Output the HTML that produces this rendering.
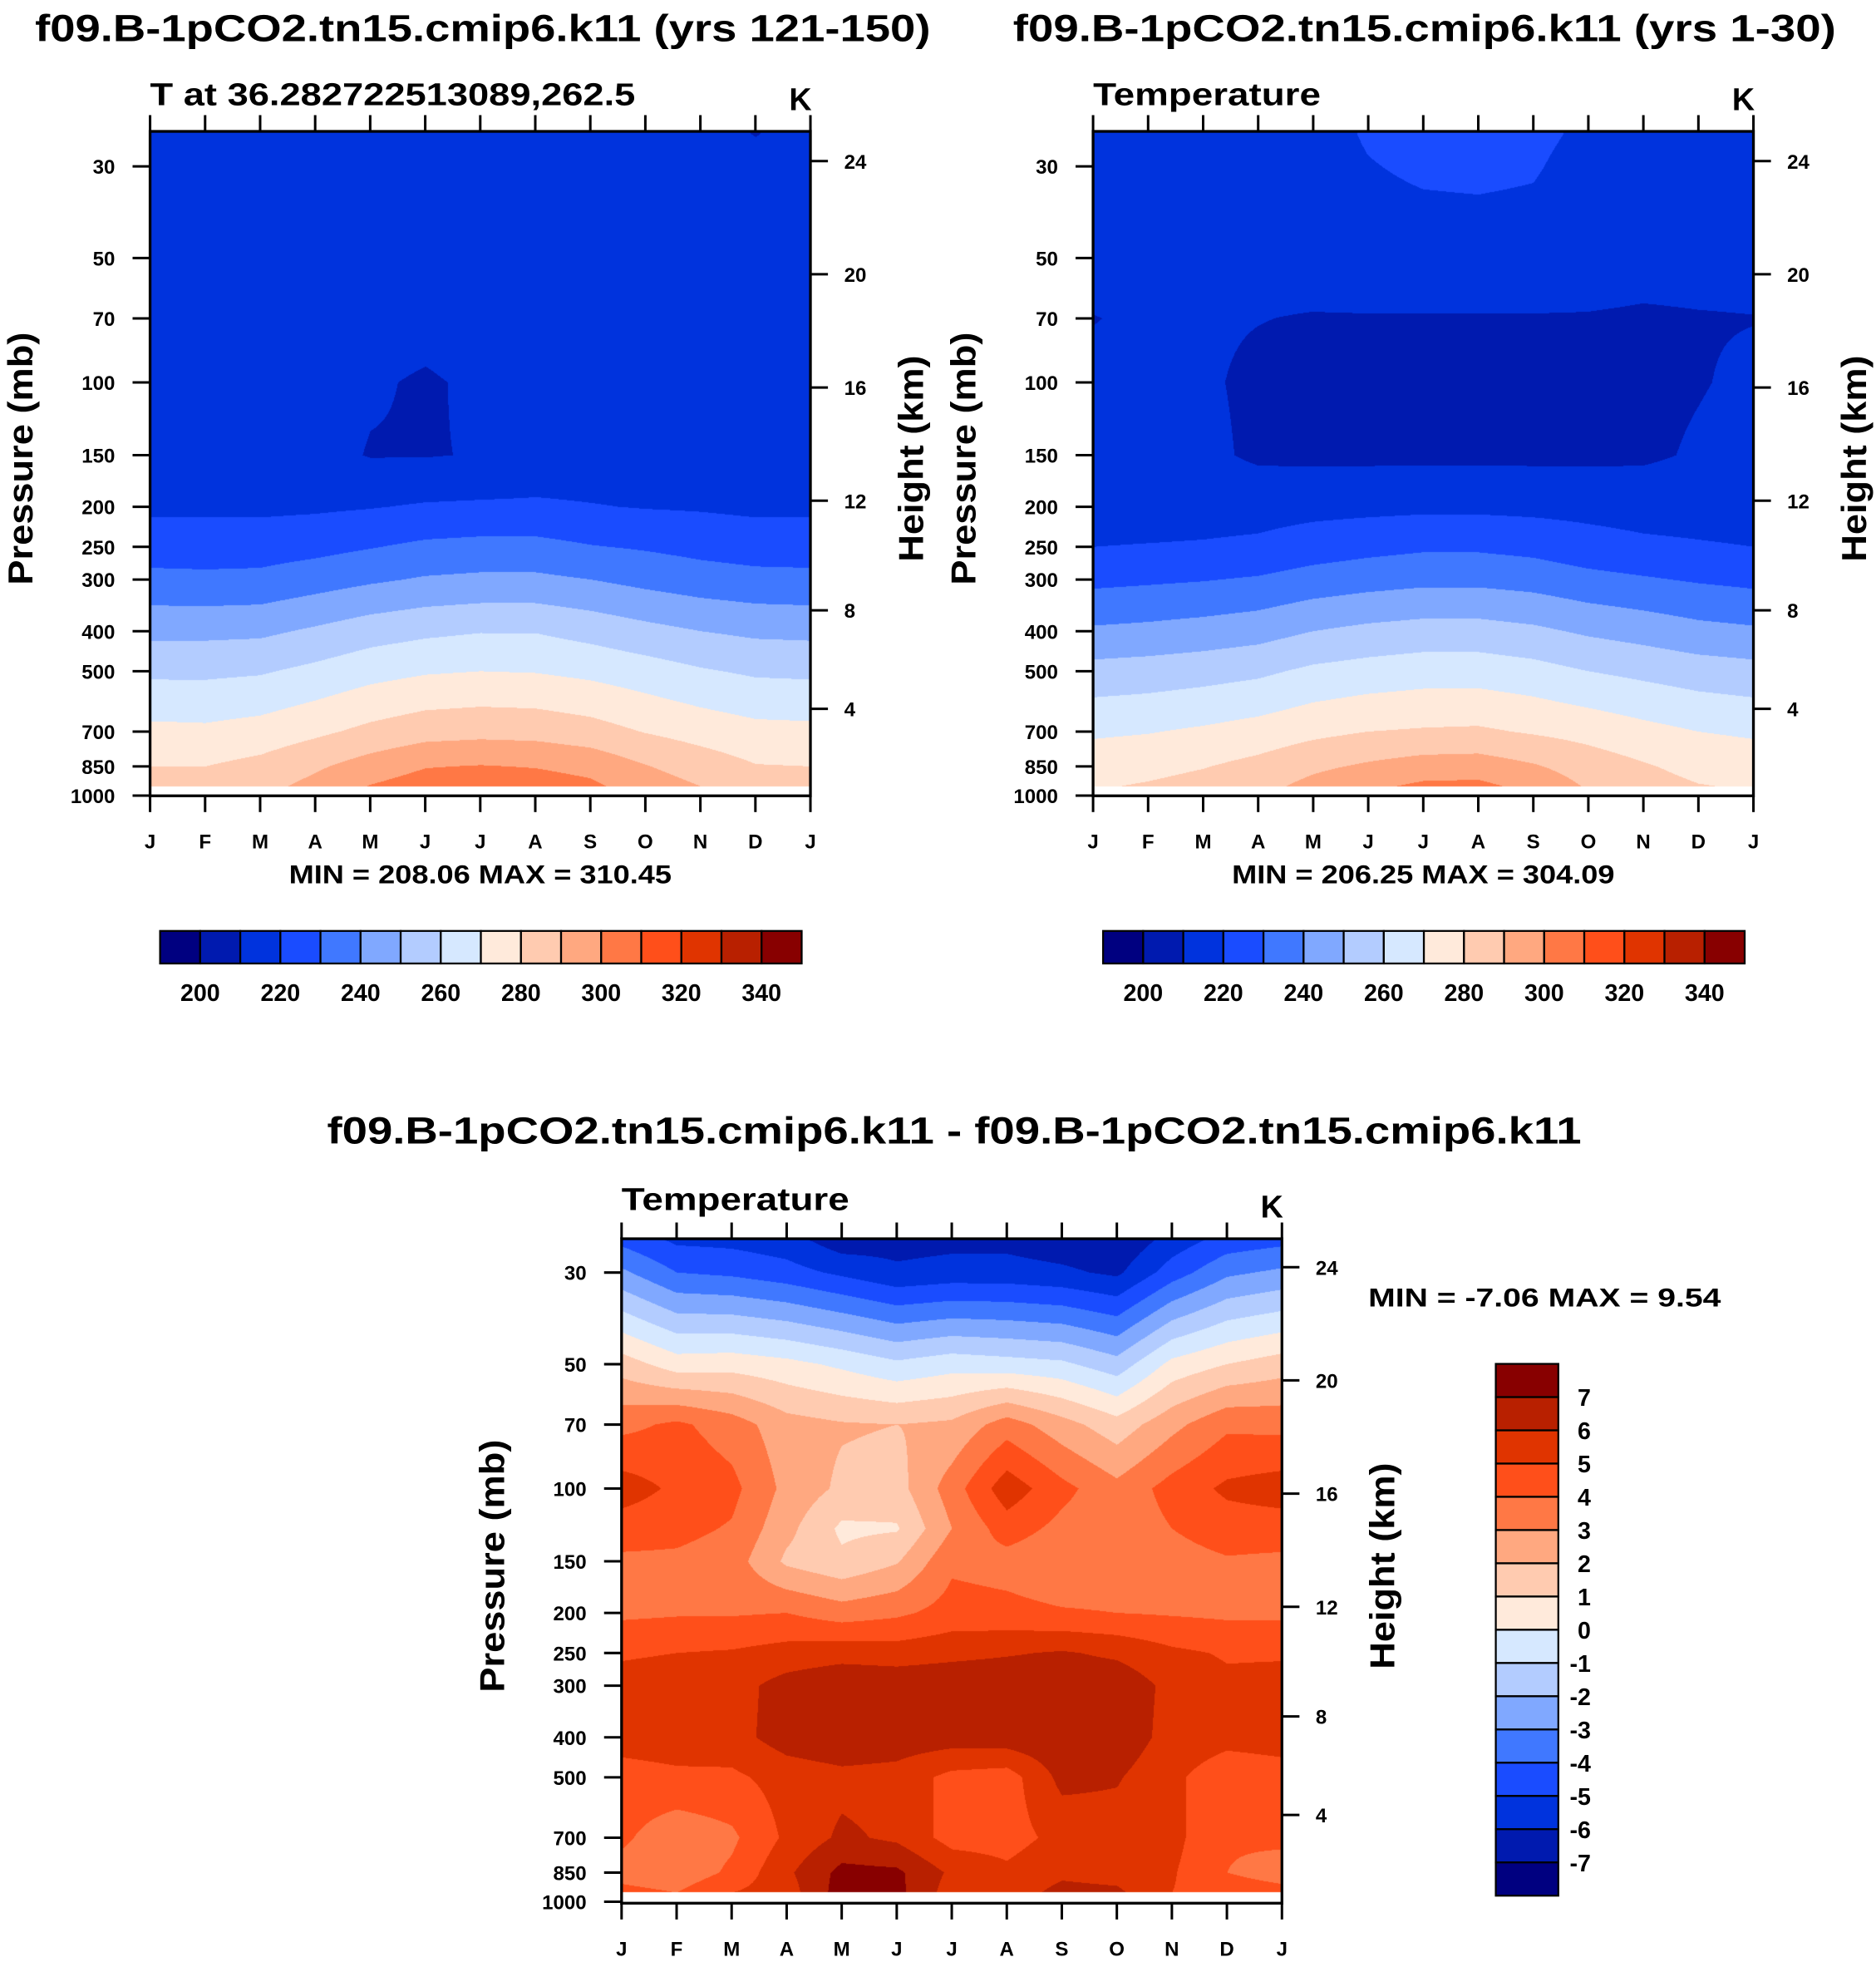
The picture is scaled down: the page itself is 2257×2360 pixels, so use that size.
<!DOCTYPE html>
<html><head><meta charset="utf-8">
<style>
html,body{margin:0;padding:0;background:#fff;}
#wrap{position:relative;width:2257px;height:2360px;overflow:hidden;background:#fff;}
canvas{position:absolute;}
svg{position:absolute;left:0;top:0;}
text{font-family:"Liberation Sans",Arial,sans-serif;font-weight:bold;fill:#000;}
</style></head>
<body>
<div id="wrap">
<canvas id="c1"></canvas>
<canvas id="c2"></canvas>
<canvas id="c3"></canvas>
<svg id="svg" width="2257" height="2360" viewBox="0 0 1500 1568" preserveAspectRatio="none">
<text x="386" y="33" font-size="30" text-anchor="middle" textLength="716" lengthAdjust="spacingAndGlyphs">f09.B-1pCO2.tn15.cmip6.k11 (yrs 121-150)</text>
<text x="1139" y="33" font-size="30" text-anchor="middle" textLength="658" lengthAdjust="spacingAndGlyphs">f09.B-1pCO2.tn15.cmip6.k11 (yrs 1-30)</text>
<text x="763" y="914" font-size="30" text-anchor="middle" textLength="1003" lengthAdjust="spacingAndGlyphs">f09.B-1pCO2.tn15.cmip6.k11 - f09.B-1pCO2.tn15.cmip6.k11</text>
<text x="120" y="84" font-size="25" textLength="388" lengthAdjust="spacingAndGlyphs">T at 36.282722513089,262.5</text>
<text x="874" y="84" font-size="25" textLength="182" lengthAdjust="spacingAndGlyphs">Temperature</text>
<text x="497" y="967" font-size="25" textLength="182" lengthAdjust="spacingAndGlyphs">Temperature</text>
<text x="649" y="88" font-size="25" text-anchor="end">K</text>
<text x="1403" y="88" font-size="25" text-anchor="end">K</text>
<text x="1026" y="973" font-size="25" text-anchor="end">K</text>
<text x="384" y="706" font-size="21" text-anchor="middle" textLength="306" lengthAdjust="spacingAndGlyphs">MIN = 208.06 MAX = 310.45</text>
<text x="1138" y="706" font-size="21" text-anchor="middle" textLength="306" lengthAdjust="spacingAndGlyphs">MIN = 206.25 MAX = 304.09</text>
<text x="1094" y="1044" font-size="21" textLength="282" lengthAdjust="spacingAndGlyphs">MIN =  -7.06 MAX =    9.54</text>
<g id="axes"></g>
</svg>
</div>
<script>
// ---------- data ----------
const months = ["J","F","M","A","M","J","J","A","S","O","N","D","J"];
const pressureTicks = [30,50,70,100,150,200,250,300,400,500,700,850,1000];
const heightTicks = [24,20,16,12,8,4];
const palette = ["#000080","#001aaf","#0033dd","#1a4cff","#4078ff","#80a8ff","#b3ccff","#d6e8ff","#ffeadb","#ffcbb0","#ffa880","#ff7845","#ff4f1a","#e03400","#b82000","#880000"];
const tempBounds = [200,210,220,230,240,250,260,270,280,290,300,310,320,330,340];
const tempLabels = [200,220,240,260,280,300,320,340];
const diffBounds = [-7,-6,-5,-4,-3,-2,-1,0,1,2,3,4,5,6,7];
const diffLabels = [7,6,5,4,3,2,1,0,-1,-2,-3,-4,-5,-6,-7];
const levelsTop = [25,30,50,70,100,150,200,250,300,400,500,700,850,950];
const levelsDiff = [25,30,50,70,100,125,150,200,250,300,400,500,700,850,950];
const tempLate = [
[215,215,215,215,214.5,214,218,225.5,232.5,247.5,258,272.5,280,284],
[215,215,215,215,214.5,214,218,225.5,232,247.5,258,272,280,284],
[215,215,215,215,214,213.5,218,225.5,232.5,248,259,274,283,287],
[215,215,215,214.5,213.5,213,218.5,227,235.5,251.5,262.5,278,288.5,293],
[215,215,215,214,211,209.5,219.5,229.5,238.5,255.5,266.5,282.5,294.5,300.5],
[215,215,214.5,213,209,209.5,221,232,241,258,269,286,299.5,305],
[215,215,215,214.5,211.5,210.5,221.5,233,242,259.5,270,287,300.5,306],
[215,215,215,215,214,213.5,221.5,233,242,259.5,269.5,286.5,299.5,305],
[215,215,215,215,214.5,214,220.5,230.5,240,256.5,267.5,284,297,302],
[215,215,215,215,214.5,214,219.5,229,237,253,264.5,279.5,290.5,295],
[215,215,215,215,214.5,214,219,227,234.5,250,261,276,285.5,290],
[209.5,214.5,215,215,214.5,214,218,225.5,233,248,258.5,273,280.5,284.5]];
const tempEarly = [
[214,214,213,209.8,211.5,213,215,220,227.5,241.5,253.5,268.5,275.5,279],
[214,214,213,211,211.5,213,215,220.5,228.5,242.5,254.5,269.5,277,281],
[214,214,213,211,211,212,215.5,221,229.5,244,256,271.5,279.5,283.5],
[214,214.5,213,210.2,208.5,208.5,216,222,231,246,258,274,283,287],
[216,216,214,209.5,208,208,217,225,234,250,262,277.5,288,293],
[221,219.5,215.5,209.5,208,208,217.5,227,236,252.5,264,280,291.5,298],
[223.5,221.5,215.5,209.5,208,208,218,228.5,237.5,254,265.5,281,294.5,302],
[224.5,222,215.5,209.5,208,208,218,228.5,237.5,254,265.5,281.5,295,302.5],
[222.5,221,215.5,209.5,208,208,217.5,227,236,252,263.5,279,291,297],
[218,216,214,209.5,208,208,217,224,233,248.5,260,276.5,285.5,289],
[214,214,213,209,208,208.5,216,222,231,246,257.5,273,281,284],
[214,214,213,209.5,209.5,211,215.5,221,229,243,255,270,277,280.5]];
const tempDiff = [
[-4.3,-2.8,1.5,3.7,5.5,4.5,3.8,3.8,4.9,5.3,5.4,4.6,4.2,3.6,4.3],
[-5.2,-4.0,0.5,4.2,4.8,4.3,3.8,3.9,5.0,5.4,5.5,4.8,3.3,3.3,4.0],
[-5.3,-4.2,0.6,3.5,4.3,3.9,3.5,3.9,5.1,5.6,5.6,4.8,3.8,4.2,5.0],
[-5.6,-4.6,0.3,2.4,2.7,2.3,1.8,4.0,5.4,6.4,6.5,5.4,5.2,5.8,5.5],
[-6.6,-5.2,-0.2,2.1,1.8,0.8,1.2,3.5,5.6,6.8,6.8,5.7,6.2,7.3,7.5],
[-6.4,-5.8,-0.8,2.0,1.6,0.9,1.9,3.8,5.5,6.7,6.6,5.6,5.8,7.2,7.3],
[-6.3,-5.6,-0.4,2.2,3.5,3.0,3.8,4.4,5.7,6.8,6.5,4.7,4.6,5.8,5.5],
[-6.3,-5.6,-0.6,3.5,5.6,4.5,3.6,4.3,5.9,6.8,6.6,4.5,4.6,5.2,5.5],
[-6.6,-5.8,-0.8,2.4,4.3,3.7,3.2,4.1,6.1,6.8,6.8,6.3,5.3,5.8,6.3],
[-6.9,-6.2,-1.6,1.4,3.3,3.3,3.3,4.0,5.8,6.7,6.7,6.1,5.5,5.6,6.2],
[-5.6,-4.5,0.3,2.7,4.4,4.0,3.6,3.9,5.2,5.7,5.6,5.2,5.3,5.1,5.0],
[-4.6,-3.2,1.0,3.8,5.2,4.5,3.9,3.8,4.9,5.2,5.3,4.4,4.1,4.0,4.5]];

// ---------- layout ----------
const SX = 2257/1500, SY = 2360/1568;
const PW = 528, MSTEP = 44, PPX = 143.4;
const NS = "http://www.w3.org/2000/svg";
const axes = document.getElementById('axes');
function mk(tag, attrs, parent){const e=document.createElementNS(NS,tag);for(const k in attrs)e.setAttribute(k,attrs[k]);(parent||axes).appendChild(e);return e;}
function colorIdx(v,b){let i=0;while(i<b.length&&v>=b[i])i++;return i;}
function hex(c){return [parseInt(c.substr(1,2),16),parseInt(c.substr(3,2),16),parseInt(c.substr(5,2),16)];}
const palRGB = palette.map(hex);
function zToP(z){ return z<=11 ? 1013.25*Math.pow(1-z/44.33,5.256) : 226.3*Math.exp(-(z-11)/6.34); }

function field(canvasId, x0, y0, ybot, y30, levels, data, bounds){
  const cv=document.getElementById(canvasId);
  const w=Math.round(PW*SX), h=Math.round((ybot-y0)*SY);
  cv.width=w; cv.height=h;
  cv.style.left=(x0*SX)+'px'; cv.style.top=(y0*SY)+'px';
  const ctx=cv.getContext('2d'); const img=ctx.createImageData(w,h);
  const lnL=levels.map(Math.log); const ln30=Math.log(30);
  for(let j=0;j<h;j++){
    const Y=y0+(j+0.5)/SY; let lp=ln30+(Y-y30)/PPX;
    let white = lp>lnL[lnL.length-1];
    if(lp<lnL[0]) lp=lnL[0];
    let k=0; while(k<lnL.length-2 && lp>lnL[k+1]) k++;
    const fy=(lp-lnL[k])/(lnL[k+1]-lnL[k]);
    for(let i=0;i<w;i++){
      const o=(j*w+i)*4;
      if(white){img.data[o]=img.data[o+1]=img.data[o+2]=255;img.data[o+3]=255;continue;}
      const m=((i+0.5)/SX)/MSTEP; let c=Math.floor(m); if(c>11)c=11; const fx=m-c;
      const a=data[c%12], b=data[(c+1)%12];
      const v=(a[k]*(1-fx)+b[k]*fx)*(1-fy)+(a[k+1]*(1-fx)+b[k+1]*fx)*fy;
      const rgb=palRGB[colorIdx(v,bounds)];
      img.data[o]=rgb[0];img.data[o+1]=rgb[1];img.data[o+2]=rgb[2];img.data[o+3]=255;
    }
  }
  ctx.putImageData(img,0,0);
}

function frame(x0,y0,ybot,y30,tag){
  const g=mk('g',{});
  
  
  const r=mk('rect',{x:x0,y:y0,width:PW,height:ybot-y0,fill:'none',stroke:'#000','stroke-width':2.2},g);
  
  
  months.forEach((mo,i)=>{
    const x=x0+i*MSTEP;
    mk('line',{x1:x,y1:ybot,x2:x,y2:ybot+13,stroke:'#000','stroke-width':2},g);
    mk('line',{x1:x,y1:y0,x2:x,y2:y0-13,stroke:'#000','stroke-width':2},g);
    const t=mk('text',{x:x,y:ybot+42,'font-size':16,'text-anchor':'middle'},g);
    t.textContent=mo;
    
    
  });
  pressureTicks.forEach(p=>{
    const y=y30+PPX*Math.log(p/30);
    mk('line',{x1:x0,y1:y,x2:x0-14,y2:y,stroke:'#000','stroke-width':2},g);
    const t=mk('text',{x:x0-28,y:y+6,'font-size':16,'text-anchor':'end'},g);
    t.textContent=p;
    
    
  });
  heightTicks.forEach(z=>{
    const y=y30+PPX*Math.log(zToP(z)/30);
    mk('line',{x1:x0+PW,y1:y,x2:x0+PW+14,y2:y,stroke:'#000','stroke-width':2},g);
    const t=mk('text',{x:x0+PW+27,y:y+6,'font-size':16},g);
    t.textContent=z;
    
    
  });
  const cy=(y0+ybot)/2-4;
  const pl=mk('text',{x:0,y:0,'font-size':28,'text-anchor':'middle',textLength:202,lengthAdjust:'spacingAndGlyphs',transform:`translate(${x0-94},${cy}) rotate(-90)`},g);
  pl.textContent='Pressure (mb)';
  
  
  const hl=mk('text',{x:0,y:0,'font-size':28,'text-anchor':'middle',textLength:165,lengthAdjust:'spacingAndGlyphs',transform:`translate(${x0+PW+90},${cy}) rotate(-90)`},g);
  hl.textContent='Height (km)';
  
  
}

function hbar(x0,y0,tag){
  const g=mk('g',{});
  
  
  const bw=513/palette.length;
  palette.forEach((c,i)=>{
    const r=mk('rect',{x:x0+i*bw,y:y0,width:bw,height:26,fill:c,stroke:'#000','stroke-width':1.5},g);
    
    
  });
  tempLabels.forEach(v=>{
    const i=tempBounds.indexOf(v)+1;
    const t=mk('text',{x:x0+i*bw,y:y0+56,'font-size':19,'text-anchor':'middle'},g);
    t.textContent=v;
    
    
  });
}

function vbar(x0,y0){
  const g=mk('g',{});
  
  
  const bh=425/palette.length;
  palette.slice().reverse().forEach((c,i)=>{
    const r=mk('rect',{x:x0,y:y0+i*bh,width:50,height:bh,fill:c,stroke:'#000','stroke-width':1.5},g);
    
    
  });
  diffLabels.forEach((v,i)=>{
    const t=mk('text',{x:x0+76,y:y0+(i+1)*bh+7,'font-size':19,'text-anchor':'end'},g);
    t.textContent=v;
    
    
  });
}

field('c1',120,105,636,133,levelsTop,tempLate,tempBounds);
field('c2',874,105,636,133,levelsTop,tempEarly,tempBounds);
field('c3',497,990,1521,1017,levelsDiff,tempDiff,diffBounds);
frame(120,105,636,133,'left');
frame(874,105,636,133,'right');
frame(497,990,1521,1017,'difference');
hbar(128,744,'left');
hbar(882,744,'right');
vbar(1196,1090);
</script>
</body></html>
